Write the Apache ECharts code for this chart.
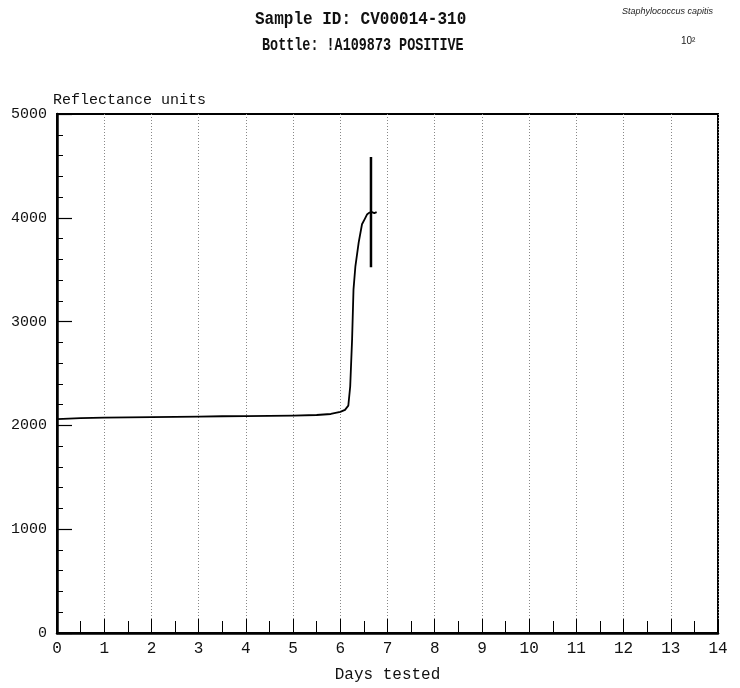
<!DOCTYPE html>
<html>
<head>
<meta charset="utf-8">
<script src="https://cdn.jsdelivr.net/npm/echarts@6/dist/echarts.min.js"></script>
<style>
  html, body { margin: 0; padding: 0; background: #fff; }
  #chart { width: 740px; height: 688px; }
</style>
</head>
<body>
<div id="chart"></div>
<script>
// reflectance curve
var days = [0, 0.5, 1, 1.5, 2, 2.5, 3, 3.5, 4, 4.5, 5, 5.5, 5.8, 6.0, 6.1, 6.17, 6.21, 6.25, 6.28, 6.32, 6.39, 6.46, 6.52, 6.57, 6.62, 6.67, 6.72, 6.77];
var units = [2060, 2070, 2075, 2078, 2080, 2082, 2085, 2088, 2090, 2092, 2095, 2100, 2110, 2130, 2150, 2190, 2375, 2828, 3311, 3533, 3764, 3938, 3990, 4035, 4050, 4054, 4045, 4055];
// positive flag bar
var flagDays = [6.65, 6.65];
var flagUnits = [3523, 4585];

var xTicks = [0, 1, 2, 3, 4, 5, 6, 7, 8, 9, 10, 11, 12, 13, 14];
var yTicks = [0, 1000, 2000, 3000, 4000, 5000];

var mono = '"Liberation Mono", "DejaVu Sans Mono", monospace';

var chart = echarts.init(document.getElementById('chart'));

var curve = [];
for (var i = 0; i < days.length; i++) curve.push([days[i], units[i]]);
var flag = [];
for (var j = 0; j < flagDays.length; j++) flag.push([flagDays[j], flagUnits[j]]);

chart.setOption({
  backgroundColor: '#fff',
  animation: false,
  graphic: [
    { type: 'text', x: 255, y: 11, scaleX: 1, scaleY: 1.1, style: { text: 'Sample ID: CV00014-310', font: 'bold 16px ' + mono, fill: '#111' } },
    { type: 'text', x: 262, y: 37, scaleX: 0.84, scaleY: 1.1, style: { text: 'Bottle: !A109873 POSITIVE', font: 'bold 16px ' + mono, fill: '#111' } },
    { type: 'text', x: 622, y: 7, style: { text: 'Staphylococcus capitis', font: 'italic 9px "Liberation Sans", Arial', fill: '#222' } },
    { type: 'text', x: 681, y: 36, style: { text: '10²', font: '10px "Liberation Sans", Arial', fill: '#222' } }
  ],
  grid: {
    left: 57, right: 22, top: 114, bottom: 54,
    show: true, borderColor: '#000', borderWidth: 2, backgroundColor: 'transparent'
  },
  xAxis: {
    type: 'value', min: 0, max: 14, interval: 1,
    name: 'Days tested', nameLocation: 'middle', nameGap: 34,
    nameTextStyle: { fontFamily: mono, fontSize: 16, color: '#111' },
    axisLine: { lineStyle: { color: '#000', width: 2.5 } },
    axisTick: { inside: true, length: 14, lineStyle: { color: '#000', width: 1 } },
    minorTick: { show: true, splitNumber: 2, length: 12, lineStyle: { color: '#000', width: 1 } },
    axisLabel: { fontFamily: mono, fontSize: 16, color: '#111', margin: 8,
      formatter: function (v) { return xTicks.indexOf(v) >= 0 ? String(v) : ''; } },
    splitLine: { show: true, lineStyle: { color: '#888', type: [1, 2], width: 1 } }
  },
  yAxis: {
    type: 'value', min: 0, max: 5000, interval: 1000,
    name: 'Reflectance units', nameLocation: 'end', nameGap: 6,
    nameTextStyle: { fontFamily: mono, fontSize: 15, color: '#111', align: 'left', verticalAlign: 'bottom', padding: [0, 0, 0, -4] },
    axisLine: { show: true, lineStyle: { color: '#000', width: 2.5 } },
    axisTick: { show: true, inside: true, length: 15, lineStyle: { color: '#000', width: 1.2 } },
    minorTick: { show: true, splitNumber: 5, length: 6, lineStyle: { color: '#000', width: 1 } },
    axisLabel: { fontFamily: mono, fontSize: 15, color: '#111', margin: 10,
      formatter: function (v) { return yTicks.indexOf(v) >= 0 ? String(v) : ''; } },
    splitLine: { show: false }
  },
  series: [
    {
      type: 'line', data: curve, symbol: 'none', smooth: false,
      lineStyle: { color: '#000', width: 1.8, join: 'round' }
    },
    {
      type: 'line', data: flag, symbol: 'none',
      lineStyle: { color: '#000', width: 2.5 }
    }
  ]
});
</script>
</body>
</html>
